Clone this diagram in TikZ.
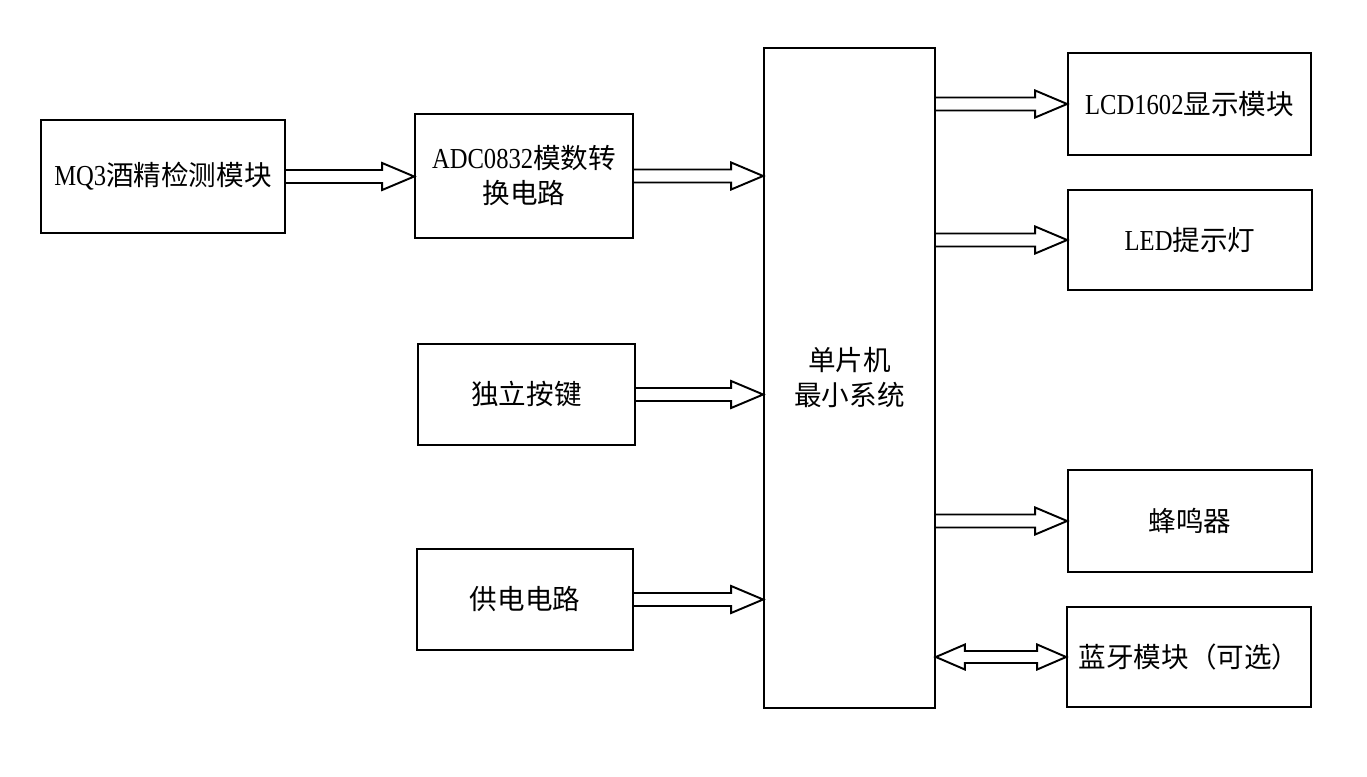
\documentclass[tikz,border=0pt]{standalone}
\usepackage{fontspec}
\setmainfont{Liberation Serif}[FakeStretch=0.85,Scale=1.05]
\newfontfamily\cjk{Noto Sans CJK SC}
\usetikzlibrary{calc}

\tikzset{
  blok/.style={draw,line width=1pt,inner sep=0pt,align=center,
    font=\fontsize{15.7}{19.9}\selectfont},
  arrline/.style={draw,line width=1.1pt,line join=miter}
}
% hollow block arrow, from #1 to tip #2
\newcommand{\fatarrow}[2]{%
  \draw[arrline] ($(#1)+(0,6.5)$) -- ($(#2)+(-32,6.5)$) -- ($(#2)+(-32,13.5)$) -- (#2)
    -- ($(#2)+(-32,-13.5)$) -- ($(#2)+(-32,-6.5)$) -- ($(#1)+(0,-6.5)$);}
% hollow block arrow with two heads
\newcommand{\fatdouble}[2]{%
  \draw[arrline] (#1) -- ($(#1)+(29,-12.5)$) -- ($(#1)+(29,-6)$) -- ($(#2)+(-29,-6)$)
    -- ($(#2)+(-29,-12.5)$) -- (#2) -- ($(#2)+(-29,12.5)$) -- ($(#2)+(-29,6)$)
    -- ($(#1)+(29,6)$) -- ($(#1)+(29,12.5)$) -- cycle;}

\begin{document}
\begin{tikzpicture}[x=0.02cm,y=-0.02cm]
\useasboundingbox (0,0) rectangle (1367,777);

\node[blok,minimum width=4.88cm,minimum height=2.26cm] (mq3) at (163,176.5) {MQ3{\cjk 酒精检测模块}};
\node[blok,minimum width=4.36cm,minimum height=2.48cm] (adc) at (524,176) {ADC0832{\cjk 模数转}\\{\cjk 换电路}};
\node[blok,minimum width=4.34cm,minimum height=2.02cm] (key) at (526.5,394.5) {\cjk 独立按键};
\node[blok,minimum width=4.32cm,minimum height=2.02cm] (power) at (525,599.5) {\cjk 供电电路};
\node[blok,minimum width=3.42cm,minimum height=13.2cm] (mcu) at (849.5,378) {\cjk 单片机\\\cjk 最小系统};
\node[blok,minimum width=4.86cm,minimum height=2.04cm] (lcd) at (1189.5,104) {LCD1602{\cjk 显示模块}};
\node[blok,minimum width=4.88cm,minimum height=2cm] (led) at (1190,240) {LED{\cjk 提示灯}};
\node[blok,minimum width=4.88cm,minimum height=2.04cm] (buzz) at (1190,521) {\cjk 蜂鸣器};
\node[blok,minimum width=4.88cm,minimum height=2cm] (bt) at (1189,657) {\cjk 蓝牙模块（可选）};

\fatarrow{mq3.east}{mq3.east -| adc.west}
\fatarrow{adc.east}{adc.east -| mcu.west}
\fatarrow{key.east}{key.east -| mcu.west}
\fatarrow{power.east}{power.east -| mcu.west}
\fatarrow{lcd.west -| mcu.east}{lcd.west}
\fatarrow{led.west -| mcu.east}{led.west}
\fatarrow{buzz.west -| mcu.east}{buzz.west}
\fatdouble{bt.west -| mcu.east}{bt.west}

\end{tikzpicture}
\end{document}
